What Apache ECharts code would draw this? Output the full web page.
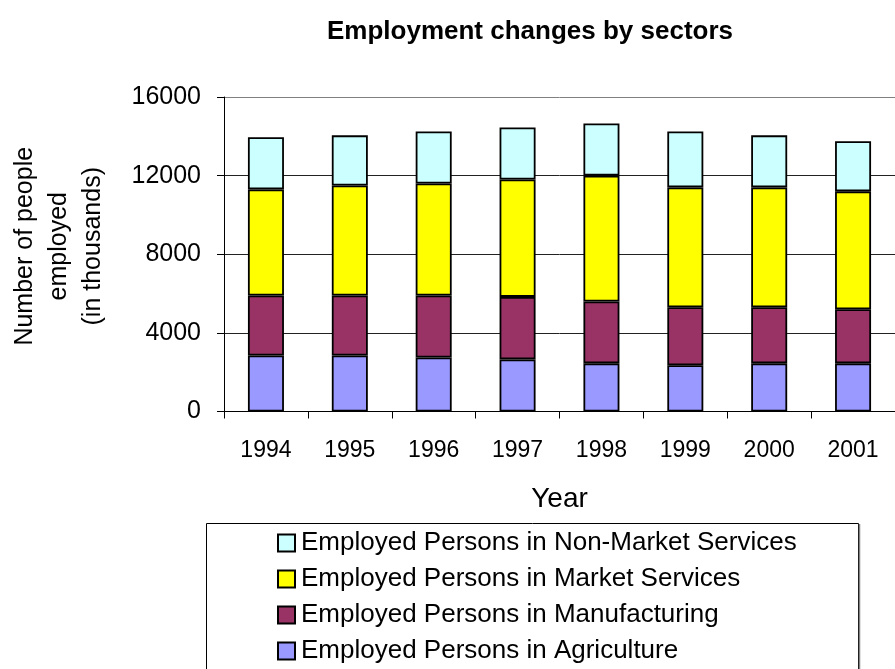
<!DOCTYPE html>
<html>
<head>
<meta charset="utf-8">
<script src="https://cdn.jsdelivr.net/npm/echarts@6/dist/echarts.min.js"></script>
<style>
  html, body { margin: 0; padding: 0; background: #fff; }
  #chart { width: 895px; height: 669px; }
</style>
</head>
<body>
<div id="chart"></div>
<script>
// Employment by sector, thousands of persons
const years = ['1994', '1995', '1996', '1997', '1998', '1999', '2000', '2001'];
const agriculture    = [2850, 2850, 2750, 2650, 2450, 2350, 2450, 2450];
const manufacturing  = [3050, 3050, 3150, 3180, 3150, 2950, 2850, 2750];
const marketServices = [5400, 5600, 5700, 5970, 6400, 6100, 6100, 6000];
const nonMarket      = [2650, 2550, 2650, 2650, 2650, 2850, 2650, 2550];
const yTicks = [0, 4000, 8000, 12000, 16000];

const seriesNames = {
  agri: 'Employed Persons in Agriculture',
  manu: 'Employed Persons in Manufacturing',
  mkt: 'Employed Persons in Market Services',
  non: 'Employed Persons in Non-Market Services'
};

const FONT = 'Liberation Sans, Arial, sans-serif';

function bar(name, data, color) {
  return {
    name: name,
    type: 'bar',
    stack: 'total',
    data: data,
    barWidth: 36,
    itemStyle: { color: color, borderColor: '#000', borderWidth: 1.8 },
    emphasis: { disabled: true }
  };
}

const chart = echarts.init(document.getElementById('chart'), null, { renderer: 'canvas' });
chart.setOption({
  animation: false,
  backgroundColor: '#fff',
  title: {
    text: 'Employment changes by sectors',
    left: 530,
    textAlign: 'center',
    top: 19,
    padding: 0,
    textStyle: { fontFamily: FONT, fontWeight: 'bold', fontSize: 26, color: '#000' }
  },
  grid: { left: 222, top: 97, width: 680, bottom: 257.5, containLabel: false },
  // legend frame, open at the bottom of the page
  graphic: [{
    type: 'rect',
    shape: { x: 206.5, y: 523.5, width: 652, height: 200 },
    style: { fill: null, stroke: '#000', lineWidth: 1 },
    silent: true
  }, {
    type: 'line',
    shape: { x1: 859.5, y1: 524, x2: 859.5, y2: 669 },
    style: { stroke: '#808080', lineWidth: 1.5 },
    silent: true
  }],
  legend: {
    orient: 'vertical',
    left: 277,
    top: 530,
    data: [seriesNames.non, seriesNames.mkt, seriesNames.manu, seriesNames.agri],
    icon: 'rect',
    itemWidth: 17,
    itemHeight: 17,
    itemGap: 10,
    padding: 0,
    selectedMode: false,
    textStyle: { fontFamily: FONT, fontSize: 26, color: '#000', lineHeight: 26, padding: [0, 0, 0, 1] }
  },
  xAxis: {
    type: 'category',
    data: years,
    name: 'Year',
    nameLocation: 'middle',
    nameGap: 74,
    nameTextStyle: { fontFamily: FONT, fontSize: 28, color: '#000' },
    axisLine: { lineStyle: { color: '#000', width: 1 } },
    axisTick: { show: true, length: 7, lineStyle: { color: '#000' } },
    axisLabel: { fontFamily: FONT, fontSize: 23, color: '#000', margin: 28 }
  },
  yAxis: {
    type: 'value',
    min: yTicks[0],
    max: yTicks[yTicks.length - 1],
    interval: 4000,
    name: 'Number of people\nemployed\n(in thousands)',
    nameLocation: 'middle',
    nameRotate: 90,
    nameGap: 114,
    nameTextStyle: { fontFamily: FONT, fontSize: 25, color: '#000', lineHeight: 34, align: 'center', padding: [0, 0, 0, 16] },
    axisLine: { show: true, lineStyle: { color: '#000', width: 1 } },
    axisTick: { show: true, length: 7, lineStyle: { color: '#000' } },
    axisLabel: { fontFamily: FONT, fontSize: 25, color: '#000', margin: 23, formatter: v => String(v) },
    splitLine: { show: true, lineStyle: { color: ['#000', '#222', '#222', '#222', '#808080'], width: 1 } }
  },
  series: [
    bar(seriesNames.agri, agriculture, '#9999FF'),
    bar(seriesNames.manu, manufacturing, '#993366'),
    bar(seriesNames.mkt, marketServices, '#FFFF00'),
    bar(seriesNames.non, nonMarket, '#CCFFFF')
  ]
});
</script>
</body>
</html>
